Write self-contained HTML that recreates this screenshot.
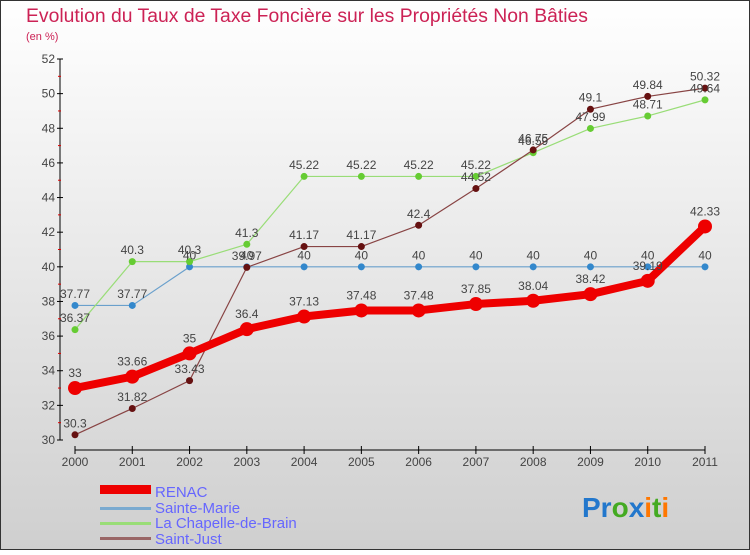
<!DOCTYPE html>
<html><head><meta charset="utf-8"><style>
body{margin:0;width:750px;height:550px;overflow:hidden;font-family:"Liberation Sans",sans-serif}
svg text{font-family:"Liberation Sans",sans-serif}
</style></head><body>
<svg id="chart" width="750" height="550" xmlns="http://www.w3.org/2000/svg">
<defs><linearGradient id="bg" x1="0" y1="0" x2="0" y2="1"><stop offset="0" stop-color="#ffffff"/><stop offset="1" stop-color="#cfcfcf"/></linearGradient></defs>
<rect x="0.5" y="0.5" width="749" height="549" fill="url(#bg)" stroke="#333" stroke-width="1"/>
<text x="26" y="22" font-size="19" fill="#cc2255" textLength="562" lengthAdjust="spacingAndGlyphs">Evolution du Taux de Taxe Foncière sur les Propriétés Non Bâties</text>
<text x="26" y="40" font-size="11" fill="#cc2255">(en %)</text>
<g id="axes"></g><g id="series"></g><g id="labels"></g>
<g font-size="15" fill="#6666ff">
<rect x="100" y="485" width="51" height="9" fill="#ee0000"/>
<text x="155" y="497">RENAC</text>
<rect x="100" y="507" width="51" height="3" fill="#7aaad0"/>
<text x="155" y="513">Sainte-Marie</text>
<rect x="100" y="522" width="51" height="3" fill="#99dd77"/>
<text x="155" y="528">La Chapelle-de-Brain</text>
<rect x="100" y="537" width="51" height="3" fill="#996666"/>
<text x="155" y="544">Saint-Just</text>
</g>
<g font-size="28" font-weight="bold" font-family="Liberation Sans">
<text x="582" y="517"><tspan fill="#2277cc">Pr</tspan><tspan fill="#44aa22">o</tspan><tspan fill="#2277cc">x</tspan><tspan fill="#ff7700">i</tspan><tspan fill="#44aa22">t</tspan><tspan fill="#ff7700">i</tspan></text>
</g>
</svg>
<script>
const years=["2000","2001","2002","2003","2004","2005","2006","2007","2008","2009","2010","2011"];
const yTicks=[30,32,34,36,38,40,42,44,46,48,50,52];
const renac=[33,33.66,35,36.4,37.13,37.48,37.48,37.85,38.04,38.42,39.19,42.33];
const sainteMarie=[37.77,37.77,40,40,40,40,40,40,40,40,40,40];
const laChapelle=[36.37,40.3,40.3,41.3,45.22,45.22,45.22,45.22,46.59,47.99,48.71,49.64];
const saintJust=[30.3,31.82,33.43,39.97,41.17,41.17,42.4,44.52,46.75,49.1,49.84,50.32];
const NS="http://www.w3.org/2000/svg";
const x0=75,x1=705,yTop=59,yBot=440,vMin=30,vMax=52;
const xs=i=>x0+i*(x1-x0)/(years.length-1);
const ys=v=>yBot-(v-vMin)*(yBot-yTop)/(vMax-vMin);
function mk(tag,attrs,parent,txt){const e=document.createElementNS(NS,tag);for(const k in attrs)e.setAttribute(k,attrs[k]);if(txt!==undefined)e.textContent=txt;parent.appendChild(e);return e;}
const ax=document.getElementById('axes');
let yl=mk('line',{x1:60,y1:yTop,x2:60,y2:yBot,stroke:'#000','stroke-width':1},ax);


yTicks.forEach((t,i)=>{
 mk('line',{x1:57,x2:63,y1:ys(t),y2:ys(t),stroke:'#000'},ax);
 if(i<yTicks.length-1)mk('line',{x1:58,x2:61,y1:ys(t+1),y2:ys(t+1),stroke:'#d00'},ax);
 let tx=mk('text',{x:55,y:ys(t)+4,'text-anchor':'end','font-size':12,fill:'#444'},ax,String(t));
 
 
});
let xl=mk('line',{x1:x0,y1:450,x2:x1,y2:450,stroke:'#000','stroke-width':1},ax);


years.forEach((y,i)=>{
 mk('line',{x1:xs(i),x2:xs(i),y1:446,y2:454,stroke:'#000'},ax);
 let tx=mk('text',{x:xs(i),y:466,'text-anchor':'middle','font-size':12,fill:'#444'},ax,y);
 
 
});
const sg=document.getElementById('series'),lg=document.getElementById('labels');
function draw(vals,name,color,w,r,mcol){
 const g=mk('g',{},sg);
 
 
 const l=mk('polyline',{points:vals.map((v,i)=>xs(i)+','+ys(v)).join(' '),fill:'none',stroke:color,'stroke-width':w,'stroke-linejoin':'round'},g);
 
 
 vals.forEach((v,i)=>{
  const c=mk('circle',{cx:xs(i),cy:ys(v),r:r,fill:mcol},g);
  
  
  const t=mk('text',{x:xs(i),y:ys(v)-r-4,'text-anchor':'middle','font-size':12,fill:'#444'},lg,String(v));
  
  
 });
}
draw(sainteMarie,'sainte-marie','#6aa0cc',1.2,3.5,'#3388cc');
draw(laChapelle,'la-chapelle','#99dd77',1.2,3.5,'#66cc33');
draw(saintJust,'saint-just','#884444',1.2,3.5,'#661111');
draw(renac,'renac','#ee0000',8,7,'#ee0000');
</script>
</body></html>
